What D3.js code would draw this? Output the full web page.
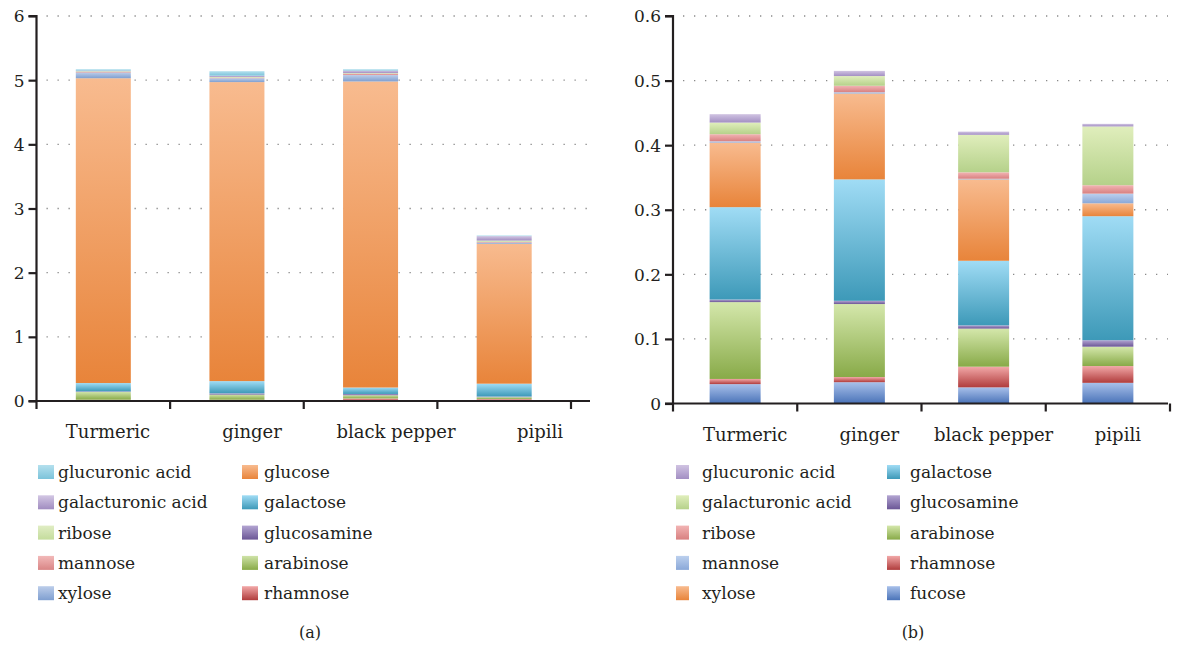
<!DOCTYPE html>
<html><head><meta charset="utf-8">
<script src="https://cdn.jsdelivr.net/npm/d3@7"></script>
<style>
body{margin:0;background:#fff;}
</style></head>
<body>
<svg id="chart" width="1184" height="648"></svg>
<script>
const FONT = "DejaVu Serif";
const categories = ["Turmeric","ginger","black pepper","pipili"];

// Panel (a) series, bottom to top
const seriesA = ["rhamnose","arabinose","glucosamine","galactose","glucose","xylose","mannose","ribose","galacturonic acid","glucuronic acid"];
const rhamnoseA      = [0.02, 0.02, 0.04, 0.03];
const arabinoseA     = [0.12, 0.08, 0.05, 0.03];
const glucosamineA   = [0.01, 0.02, 0.02, 0.01];
const galactoseA     = [0.13, 0.19, 0.10, 0.20];
const glucoseA       = [4.75, 4.66, 4.77, 2.18];
const xyloseA        = [0.09, 0.06, 0.10, 0.02];
const mannoseA       = [0.01, 0.01, 0.02, 0.01];
const riboseA        = [0.01, 0.01, 0.01, 0.02];
const galacturonicA  = [0.01, 0.02, 0.04, 0.07];
const glucuronicA    = [0.02, 0.07, 0.02, 0.01];
const ticksA = [0,1,2,3,4,5,6];

// Panel (b) series, bottom to top
const seriesB = ["fucose","rhamnose","arabinose","glucosamine","galactose","xylose","mannose","ribose","galacturonic acid","glucuronic acid"];
const fucoseB        = [0.030, 0.033, 0.025, 0.032];
const rhamnoseB      = [0.008, 0.008, 0.032, 0.026];
const arabinoseB     = [0.119, 0.113, 0.059, 0.030];
const glucosamineB   = [0.004, 0.005, 0.005, 0.010];
const galactoseB     = [0.143, 0.188, 0.100, 0.192];
const xyloseB        = [0.100, 0.133, 0.126, 0.020];
const mannoseB       = [0.002, 0.002, 0.001, 0.015];
const riboseB        = [0.011, 0.010, 0.010, 0.013];
const galacturonicB  = [0.018, 0.015, 0.058, 0.091];
const glucuronicB    = [0.013, 0.008, 0.005, 0.004];
const ticksB = [0,0.1,0.2,0.3,0.4,0.5,0.6];

const valuesA = [rhamnoseA,arabinoseA,glucosamineA,galactoseA,glucoseA,xyloseA,mannoseA,riboseA,galacturonicA,glucuronicA];
const valuesB = [fucoseB,rhamnoseB,arabinoseB,glucosamineB,galactoseB,xyloseB,mannoseB,riboseB,galacturonicB,glucuronicB];

const colorsA = {
  "glucuronic acid":["#b4e0ee","#7cc3da"],
  "galacturonic acid":["#d3c7e4","#a08cc0"],
  "ribose":["#e0edc4","#c4dc9c"],
  "mannose":["#f2b9b9","#d98585"],
  "xylose":["#bccdea","#7f9fd0"],
  "glucose":["#f8bb8f","#e8843a"],
  "galactose":["#a0dcf5","#3d99b8"],
  "glucosamine":["#b3a5d2","#6b5696"],
  "arabinose":["#cfe3a8","#88aa48"],
  "rhamnose":["#f2a8a8","#b03c3c"]
};
const colorsB = {
  "glucuronic acid":["#d0c3e2","#a38fc3"],
  "galacturonic acid":["#e0eebc","#b5d18a"],
  "ribose":["#f2b4b4","#d88080"],
  "mannose":["#bcd0ee","#8aa8d8"],
  "xylose":["#f8bb8f","#e8843a"],
  "galactose":["#a0dcf5","#3d99b8"],
  "glucosamine":["#b3a5d2","#6b5696"],
  "arabinose":["#d4e7ab","#88aa48"],
  "rhamnose":["#f2a8a8","#b03c3c"],
  "fucose":["#a8c0ea","#4a73b8"]
};

const svg = d3.select("#chart");
const defs = svg.append("defs");
function grad(id, c){
  const g = defs.append("linearGradient").attr("id",id).attr("x1",0).attr("y1",0).attr("x2",0).attr("y2",1);
  g.append("stop").attr("offset","0%").attr("stop-color",c[0]);
  g.append("stop").attr("offset","100%").attr("stop-color",c[1]);
}
const gid = (p,k)=> p + "_" + k.replace(/\s+/g,"_");
Object.entries(colorsA).forEach(([k,c])=>grad(gid("a",k),c));
Object.entries(colorsB).forEach(([k,c])=>grad(gid("b",k),c));

function panel(cfg){
  const {prefix, keys, vals, ticks, yDomain, x0, x1, y0, y1, gridEnd, barW, labelRange, tickFmt, legendX} = cfg;
  const g = svg.append("g").attr("font-family", FONT);
  const x = d3.scaleBand().domain(categories).range([x0,x1]);
  const y = d3.scaleLinear().domain(yDomain).range([y0,y1]);
  const rows = categories.map((c,i)=>{ const o={cat:c}; keys.forEach((k,j)=>o[k]=vals[j][i]); return o; });
  const stacked = d3.stack().keys(keys)(rows);

  g.append("g").selectAll("line").data(ticks.slice(1)).join("line")
    .attr("x1", x0+10).attr("x2", gridEnd)
    .attr("y1", d=>y(d)).attr("y2", d=>y(d))
    .attr("stroke","#8a8a8a").attr("stroke-width",1.3)
    .attr("stroke-dasharray","1.3,9.7");

  stacked.forEach(layer=>{
    g.append("g").selectAll("rect").data(layer).join("rect")
      .attr("x", d=> x(d.data.cat) + (x.bandwidth()-barW)/2)
      .attr("width", barW)
      .attr("y", d=> y(d[1]))
      .attr("height", d=> Math.max(0, y(d[0]) - y(d[1])))
      .attr("fill", "url(#"+gid(prefix, layer.key)+")");
  });

  const ya = d3.axisLeft(y).tickValues(ticks).tickSize(8).tickPadding(4).tickFormat(tickFmt);
  const yg = g.append("g").attr("transform",`translate(${x0},0)`).call(ya);
  yg.attr("font-family", FONT).attr("font-size", 17);
  yg.select(".domain").attr("stroke","#231f20").attr("stroke-width",2.2).attr("d",`M-8,${y1}H0V${y0}`);
  yg.selectAll(".tick line").attr("stroke","#231f20").attr("stroke-width",2.2);
  yg.selectAll("text").attr("fill","#231f20").attr("dy","0.35em");

  const xa = d3.axisBottom(x).tickSize(0).tickFormat("");
  const xg = g.append("g").attr("transform",`translate(0,${y0})`).call(xa);
  xg.select(".domain").attr("stroke","#231f20").attr("stroke-width",2.2).attr("d",`M${x0-8},0H${gridEnd}`);
  g.append("g").selectAll("line").data(categories).join("line")
    .attr("x1", d=>x(d)).attr("x2", d=>x(d))
    .attr("y1", y0).attr("y2", y0+8)
    .attr("stroke","#231f20").attr("stroke-width",2.2);
  g.append("line").attr("x1",x1).attr("x2",x1).attr("y1",y0).attr("y2",y0+8)
    .attr("stroke","#231f20").attr("stroke-width",2.2);

  const xl = d3.scaleBand().domain(categories).range(labelRange);
  g.append("g").selectAll("text").data(categories).join("text")
    .attr("x", d=> xl(d)+xl.bandwidth()/2).attr("y", y0+37)
    .attr("text-anchor","middle").attr("font-size", 18).attr("fill","#231f20").text(d=>d);

  const legendKeys = keys.slice().reverse();
  legendKeys.forEach((k,i)=>{
    const col = Math.floor(i/5), row = i%5;
    const lx = legendX[col], ly = 472 + row*30.3;
    g.append("rect").attr("x",lx).attr("y",ly-7).attr("width",cfg.sw).attr("height",14)
      .attr("fill","url(#"+gid(prefix,k)+")");
    g.append("text").attr("x",lx+cfg.textOff[col]).attr("y",ly).attr("dy","0.35em")
      .attr("font-size", 17).attr("fill","#231f20").text(k);
  });

  g.append("text").attr("x",cfg.captionX).attr("y",632).attr("dy","0.35em").attr("text-anchor","middle")
    .attr("font-size", 16).attr("fill","#231f20").text(cfg.caption);
}

panel({prefix:"a", keys:seriesA, vals:valuesA, ticks:ticksA, yDomain:[0,6],
  x0:36.5, x1:571, y0:401, y1:16, gridEnd:590, barW:55, labelRange:[36,612],
  tickFmt:d3.format("d"), legendX:[38,242], sw:16, textOff:[20,22], caption:"(a)", captionX:310});

panel({prefix:"b", keys:seriesB, vals:valuesB, ticks:ticksB, yDomain:[0,0.6],
  x0:673, x1:1170, y0:403.5, y1:16, gridEnd:1168, barW:51, labelRange:[683,1180],
  tickFmt:d => d===0 ? "0" : d3.format(".1f")(d), legendX:[676,887], sw:13, textOff:[26,23], caption:"(b)", captionX:913});
</script>
</body></html>
